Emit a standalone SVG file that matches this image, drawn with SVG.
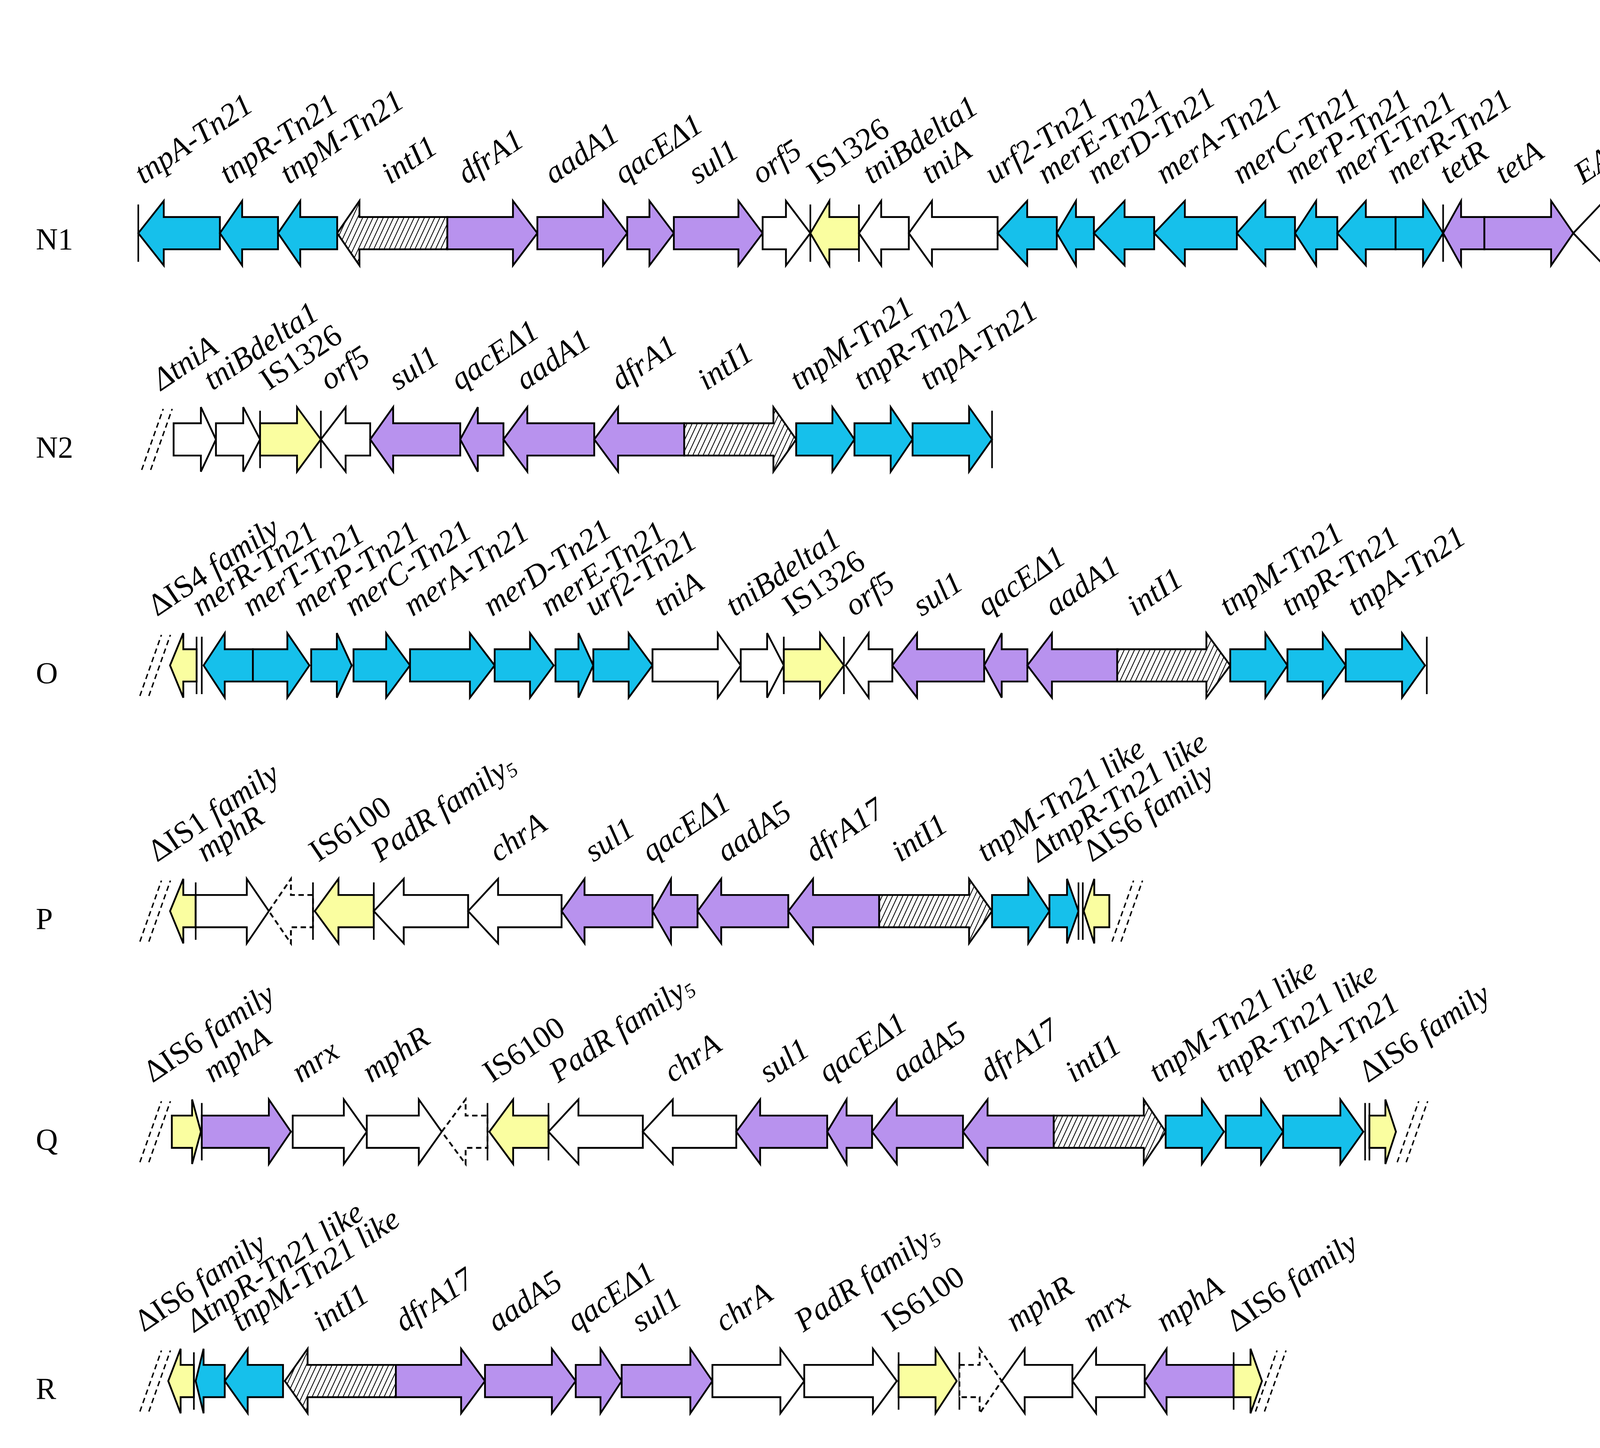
<svg xmlns="http://www.w3.org/2000/svg" width="7117" height="3707" viewBox="0 0 7117 3707">
<defs>
<pattern id="hat" patternUnits="userSpaceOnUse" width="2.6" height="2.6" patternTransform="rotate(25)">
<rect width="2.6" height="2.6" fill="#fff"/>
<line x1="0" y1="0" x2="0" y2="2.6" stroke="#000" stroke-width="0.9"/>
</pattern>
<g id="sl"><line x1="0" y1="17" x2="12" y2="-17"/><line x1="5" y1="17" x2="17" y2="-17"/></g>
</defs>
<style>
polygon{stroke:#000;stroke-width:1;stroke-linejoin:miter}
.b{fill:#16C0EB}.p{fill:#B892EE}.y{fill:#FAFEA0}.w{fill:#fff}.h{fill:url(#hat)}
.d{fill:#fff;stroke-dasharray:3 2}
line.r{stroke:#000;stroke-width:0.9}
.s{stroke:#000;stroke-width:0.8;stroke-dasharray:3 2;fill:none}
text.l{font-family:"Liberation Serif","Times New Roman",serif;font-style:italic;font-size:17.5px;fill:#000}
text.l .u{font-style:normal}
text.n{font-family:"Liberation Serif",serif;font-size:17px}
text.t{font-family:"Carlito","Open Sans","Liberation Sans",sans-serif;font-size:17px;text-anchor:end}
</style>
<rect width="7117" height="3707" fill="#fff"/>
<g transform="scale(4.5916)">
<!-- N1 -->
<g id="N1" transform="translate(0,130)">
<line class="r" x1="77.1" y1="-16" x2="77.1" y2="16"/>
<polygon class="b" points="77.1,0 91.3,-18 91.3,-9 122.6,-9 122.6,9 91.3,9 91.3,18"/>
<polygon class="b" points="122.6,0 135,-18 135,-9 155,-9 155,9 135,9 135,18"/>
<polygon class="b" points="155,0 167.4,-18 167.4,-9 188,-9 188,9 167.4,9 167.4,18"/>
<polygon class="h" points="188,0 200.4,-18 200.4,-9 249.4,-9 249.4,9 200.4,9 200.4,18"/>
<polygon class="p" points="249.4,-9 286,-9 286,-18 299.6,0 286,18 286,9 249.4,9"/>
<polygon class="p" points="299.6,-9 336.2,-9 336.2,-18 349.7,0 336.2,18 336.2,9 299.6,9"/>
<polygon class="p" points="349.7,-9 362.1,-9 362.1,-18 375.7,0 362.1,18 362.1,9 349.7,9"/>
<polygon class="p" points="375.7,-9 411.7,-9 411.7,-18 425.2,0 411.7,18 411.7,9 375.7,9"/>
<polygon class="w" points="425.2,-9 438.2,-9 438.2,-18 451.8,0 438.2,18 438.2,9 425.2,9"/>
<line class="r" x1="451.8" y1="-16" x2="451.8" y2="16"/>
<polygon class="y" points="451.8,0 462.4,-18 462.4,-9 478.9,-9 478.9,9 462.4,9 462.4,18"/>
<line class="r" x1="478.9" y1="-16" x2="478.9" y2="16"/>
<polygon class="w" points="478.9,0 491.3,-18 491.3,-9 506.7,-9 506.7,9 491.3,9 491.3,18"/>
<polygon class="w" points="506.7,0 519.6,-18 519.6,-9 556.2,-9 556.2,9 519.6,9 519.6,18"/>
<polygon class="b" points="556.2,0 572.7,-18 572.7,-9 589.2,-9 589.2,9 572.7,9 572.7,18"/>
<polygon class="b" points="589.2,0 599.9,-18 599.9,-9 609.9,-9 609.9,9 599.9,9 599.9,18"/>
<polygon class="b" points="609.9,0 627,-18 627,-9 643.5,-9 643.5,9 627,9 627,18"/>
<polygon class="b" points="643.5,0 660.6,-18 660.6,-9 689.6,-9 689.6,9 660.6,9 660.6,18"/>
<polygon class="b" points="689.6,0 705.5,-18 705.5,-9 722,-9 722,9 705.5,9 705.5,18"/>
<polygon class="b" points="722,0 733.8,-18 733.8,-9 745.6,-9 745.6,9 733.8,9 733.8,18"/>
<polygon class="b" points="745.6,0 761.5,-18 761.5,-9 778.1,-9 778.1,9 761.5,9 761.5,18"/>
<polygon class="b" points="778.1,-9 793.4,-9 793.4,-18 804.6,0 793.4,18 793.4,9 778.1,9"/>
<line class="r" x1="804.6" y1="-16" x2="804.6" y2="16"/>
<polygon class="p" points="804.6,0 814.6,-18 814.6,-9 827.6,-9 827.6,9 814.6,9 814.6,18"/>
<polygon class="p" points="827.6,-9 864.8,-9 864.8,-18 877.2,0 864.8,18 864.8,9 827.6,9"/>
<polygon class="w" points="877.2,0 894.3,-18 894.3,-9 929.7,-9 929.7,9 894.3,9 894.3,18"/>
<polygon class="b" points="929.7,0 945.6,-18 945.6,-9 962.1,-9 962.1,9 945.6,9 945.6,18"/>
<g transform="translate(0,-27)">
<text class="l" transform="translate(80,0) rotate(-34)">tnpA-Tn21</text>
<text class="l" transform="translate(127.3,0) rotate(-34)">tnpR-Tn21</text>
<text class="l" transform="translate(161,0) rotate(-34)">tnpM-Tn21</text>
<text class="l" transform="translate(217.5,0) rotate(-34)">intI1</text>
<text class="l" transform="translate(260,0) rotate(-34)">dfrA1</text>
<text class="l" transform="translate(308.4,0) rotate(-34)">aadA1</text>
<text class="l" transform="translate(347.4,0) rotate(-34)">qacEΔ1</text>
<text class="l" transform="translate(388.7,0) rotate(-34)">sul1</text>
<text class="l" transform="translate(424,0) rotate(-34)">orf5</text>
<text class="l" transform="translate(455,0) rotate(-34)"><tspan class="u">IS1326</tspan></text>
<text class="l" transform="translate(486,0) rotate(-34)">tniBdelta1</text>
<text class="l" transform="translate(518.5,0) rotate(-34)">tniA</text>
<text class="l" transform="translate(554,0) rotate(-34)">urf2-Tn21</text>
<text class="l" transform="translate(583.3,0) rotate(-34)">merE-Tn21</text>
<text class="l" transform="translate(611,0) rotate(-34)">merD-Tn21</text>
<text class="l" transform="translate(649.4,0) rotate(-34)">merA-Tn21</text>
<text class="l" transform="translate(692,0) rotate(-34)">merC-Tn21</text>
<text class="l" transform="translate(721.4,0) rotate(-34)">merP-Tn21</text>
<text class="l" transform="translate(748.5,0) rotate(-34)">merT-Tn21</text>
<text class="l" transform="translate(778,0) rotate(-34)">merR-Tn21</text>
<text class="l" transform="translate(807.5,0) rotate(-34)">tetR</text>
<text class="l" transform="translate(838.3,0) rotate(-34)">tetA</text>
<text class="l" transform="translate(882.5,0) rotate(-34)">EAmA transporter</text>
<text class="l" transform="translate(935.6,0) rotate(-34)">putative tnp</text>
</g>
<text class="n" x="20" y="9">N1</text>
<text class="t" x="1523" y="9">Rb19, ST111</text>
</g>
<!-- N2 -->
<g id="N2" transform="translate(0,245)">
<use href="#sl" class="s" x="79"/>
<polygon class="w" points="96.8,-9 112,-9 112,-18 120.4,0 112,18 112,9 96.8,9"/>
<polygon class="w" points="120.4,-9 135.6,-9 135.6,-18 145,0 135.6,18 135.6,9 120.4,9"/>
<line class="r" x1="145" y1="-16" x2="145" y2="16"/>
<polygon class="y" points="145,-9 165.6,-9 165.6,-18 178.9,0 165.6,18 165.6,9 145,9"/>
<line class="r" x1="178.9" y1="-16" x2="178.9" y2="16"/>
<polygon class="w" points="178.9,0 192.7,-18 192.7,-9 206.4,-9 206.4,9 192.7,9 192.7,18"/>
<polygon class="p" points="206.4,0 219.2,-18 219.2,-9 256.6,-9 256.6,9 219.2,9 219.2,18"/>
<polygon class="p" points="256.6,0 266.4,-18 266.4,-9 280.7,-9 280.7,9 266.4,9 266.4,18"/>
<polygon class="p" points="280.7,0 294,-18 294,-9 331.3,-9 331.3,9 294,9 294,18"/>
<polygon class="p" points="331.3,0 344.6,-18 344.6,-9 381.5,-9 381.5,9 344.6,9 344.6,18"/>
<polygon class="h" points="381.5,-9 431.2,-9 431.2,-18 443.9,0 431.2,18 431.2,9 381.5,9"/>
<polygon class="b" points="443.9,-9 464.1,-9 464.1,-18 476.4,0 464.1,18 464.1,9 443.9,9"/>
<polygon class="b" points="476.4,-9 496.6,-9 496.6,-18 508.8,0 496.6,18 496.6,9 476.4,9"/>
<polygon class="b" points="508.8,-9 540.3,-9 540.3,-18 553.1,0 540.3,18 540.3,9 508.8,9"/>
<line class="r" x1="553.1" y1="-16" x2="553.1" y2="16"/>
<g transform="translate(0,-27)">
<text class="l" transform="translate(89.9,0) rotate(-34)">ΔtniA</text>
<text class="l" transform="translate(118.4,0) rotate(-34)">tniBdelta1</text>
<text class="l" transform="translate(149.9,0) rotate(-34)"><tspan class="u">IS1326</tspan></text>
<text class="l" transform="translate(183.3,0) rotate(-34)">orf5</text>
<text class="l" transform="translate(221.7,0) rotate(-34)">sul1</text>
<text class="l" transform="translate(256.1,0) rotate(-34)">qacEΔ1</text>
<text class="l" transform="translate(292.5,0) rotate(-34)">aadA1</text>
<text class="l" transform="translate(345.6,0) rotate(-34)">dfrA1</text>
<text class="l" transform="translate(393.8,0) rotate(-34)">intI1</text>
<text class="l" transform="translate(445.4,0) rotate(-34)">tnpM-Tn21</text>
<text class="l" transform="translate(480.8,0) rotate(-34)">tnpR-Tn21</text>
<text class="l" transform="translate(517.7,0) rotate(-34)">tnpA-Tn21</text>
</g>
<text class="n" x="20" y="10">N2</text>
<text class="t" x="1523" y="10">Rb7, ST20</text>
</g>
<!-- O -->
<g id="O" transform="translate(0,371)">
<use href="#sl" class="s" x="78"/>
<polygon class="y" points="94.8,0 102.2,-18 102.2,-9 109.6,-9 109.6,9 102.2,9 102.2,18"/>
<line class="r" x1="109.6" y1="-16" x2="109.6" y2="16"/>
<line class="r" x1="112.5" y1="-16" x2="112.5" y2="16"/>
<polygon class="b" points="113.5,0 125.3,-18 125.3,-9 141,-9 141,9 125.3,9 125.3,18"/>
<polygon class="b" points="141,-9 160.2,-9 160.2,-18 172.5,0 160.2,18 160.2,9 141,9"/>
<polygon class="b" points="173.5,-9 187.8,-9 187.8,-18 196.1,0 187.8,18 187.8,9 173.5,9"/>
<polygon class="b" points="197.1,-9 215.3,-9 215.3,-18 228.6,0 215.3,18 215.3,9 197.1,9"/>
<polygon class="b" points="228.6,-9 262,-9 262,-18 275.8,0 262,18 262,9 228.6,9"/>
<polygon class="b" points="275.8,-9 295.5,-9 295.5,-18 308.7,0 295.5,18 295.5,9 275.8,9"/>
<polygon class="b" points="309.7,-9 322.5,-9 322.5,-18 330.8,0 322.5,18 322.5,9 309.7,9"/>
<polygon class="b" points="330.8,-9 350.5,-9 350.5,-18 363.8,0 350.5,18 350.5,9 330.8,9"/>
<polygon class="w" points="363.8,-9 400.2,-9 400.2,-18 413,0 400.2,18 400.2,9 363.8,9"/>
<polygon class="w" points="413,-9 427.7,-9 427.7,-18 437,0 427.7,18 427.7,9 413,9"/>
<line class="r" x1="437" y1="-16" x2="437" y2="16"/>
<polygon class="y" points="437,-9 457.2,-9 457.2,-18 470.5,0 457.2,18 457.2,9 437,9"/>
<line class="r" x1="470.5" y1="-16" x2="470.5" y2="16"/>
<polygon class="w" points="471.5,0 484.3,-18 484.3,-9 497.5,-9 497.5,9 484.3,9 484.3,18"/>
<polygon class="p" points="497.5,0 511.3,-18 511.3,-9 548.7,-9 548.7,9 511.3,9 511.3,18"/>
<polygon class="p" points="548.7,0 558.5,-18 558.5,-9 572.8,-9 572.8,9 558.5,9 558.5,18"/>
<polygon class="p" points="572.8,0 586.5,-18 586.5,-9 622.9,-9 622.9,9 586.5,9 586.5,18"/>
<polygon class="h" points="622.9,-9 672.6,-9 672.6,-18 685.9,0 672.6,18 672.6,9 622.9,9"/>
<polygon class="b" points="685.9,-9 705.5,-9 705.5,-18 717.8,0 705.5,18 705.5,9 685.9,9"/>
<polygon class="b" points="717.8,-9 737.5,-9 737.5,-18 750.3,0 737.5,18 737.5,9 717.8,9"/>
<polygon class="b" points="750.3,-9 781.7,-9 781.7,-18 794.5,0 781.7,18 781.7,9 750.3,9"/>
<line class="r" x1="795.5" y1="-16" x2="795.5" y2="16"/>
<g transform="translate(0,-27)">
<text class="l" transform="translate(87.5,0) rotate(-34)"><tspan class="u">ΔIS4 </tspan>family</text>
<text class="l" transform="translate(112,0) rotate(-34)">merR-Tn21</text>
<text class="l" transform="translate(140.1,0) rotate(-34)">merT-Tn21</text>
<text class="l" transform="translate(168.6,0) rotate(-34)">merP-Tn21</text>
<text class="l" transform="translate(197.1,0) rotate(-34)">merC-Tn21</text>
<text class="l" transform="translate(230,0) rotate(-34)">merA-Tn21</text>
<text class="l" transform="translate(274.3,0) rotate(-34)">merD-Tn21</text>
<text class="l" transform="translate(306.3,0) rotate(-34)">merE-Tn21</text>
<text class="l" transform="translate(330.8,0) rotate(-34)">urf2-Tn21</text>
<text class="l" transform="translate(369.2,0) rotate(-34)">tniA</text>
<text class="l" transform="translate(409.5,0) rotate(-34)">tniBdelta1</text>
<text class="l" transform="translate(441.5,0) rotate(-34)"><tspan class="u">IS1326</tspan></text>
<text class="l" transform="translate(475.9,0) rotate(-34)">orf5</text>
<text class="l" transform="translate(513.8,0) rotate(-34)">sul1</text>
<text class="l" transform="translate(549.6,0) rotate(-34)">qacEΔ1</text>
<text class="l" transform="translate(587.5,0) rotate(-34)">aadA1</text>
<text class="l" transform="translate(633.3,0) rotate(-34)">intI1</text>
<text class="l" transform="translate(684.9,0) rotate(-34)">tnpM-Tn21</text>
<text class="l" transform="translate(719.3,0) rotate(-34)">tnpR-Tn21</text>
<text class="l" transform="translate(756.2,0) rotate(-34)">tnpA-Tn21</text>
</g>
<text class="n" x="20" y="10">O</text>
<text class="t" x="1523" y="10">Da5, Novel</text>
</g>
<!-- P -->
<g id="P" transform="translate(0,508)">
<use href="#sl" class="s" x="78"/>
<polygon class="y" points="94.8,0 102.2,-18 102.2,-9 109.1,-9 109.1,9 102.2,9 102.2,18"/>
<line class="r" x1="109.1" y1="-16" x2="109.1" y2="16"/>
<polygon class="w" points="109.1,-9 137.6,-9 137.6,-18 149.9,0 137.6,18 137.6,9 109.1,9"/>
<polygon class="d" points="149.9,0 162.2,-18 162.2,-9 174.5,-9 174.5,9 162.2,9 162.2,18"/>
<line class="r" x1="174.5" y1="-16" x2="174.5" y2="16"/>
<polygon class="y" points="175.5,0 188.7,-18 188.7,-9 208.4,-9 208.4,9 188.7,9 188.7,18"/>
<line class="r" x1="208.4" y1="-16" x2="208.4" y2="16"/>
<polygon class="w" points="208.4,0 225.1,-18 225.1,-9 261,-9 261,9 225.1,9 225.1,18"/>
<polygon class="w" points="261,0 277.7,-18 277.7,-9 313.1,-9 313.1,9 277.7,9 277.7,18"/>
<polygon class="p" points="313.1,0 325.9,-18 325.9,-9 363.8,-9 363.8,9 325.9,9 325.9,18"/>
<polygon class="p" points="363.8,0 374.1,-18 374.1,-9 388.9,-9 388.9,9 374.1,9 374.1,18"/>
<polygon class="p" points="388.9,0 402.1,-18 402.1,-9 439.5,-9 439.5,9 402.1,9 402.1,18"/>
<polygon class="p" points="439.5,0 453.3,-18 453.3,-9 490.2,-9 490.2,9 453.3,9 453.3,18"/>
<polygon class="h" points="490.2,-9 540.3,-9 540.3,-18 553.1,0 540.3,18 540.3,9 490.2,9"/>
<polygon class="b" points="553.1,-9 573.3,-9 573.3,-18 585.1,0 573.3,18 573.3,9 553.1,9"/>
<polygon class="b" points="585.1,-9 594.9,-9 594.9,-18 601.3,0 594.9,18 594.9,9 585.1,9"/>
<line class="r" x1="601.3" y1="-16" x2="601.3" y2="16"/>
<line class="r" x1="603.7" y1="-16" x2="603.7" y2="16"/>
<polygon class="y" points="604.2,0 610.1,-18 610.1,-9 618.5,-9 618.5,9 610.1,9 610.1,18"/>
<use href="#sl" class="s" x="620"/>
<g transform="translate(0,-27)">
<text class="l" transform="translate(87.5,0) rotate(-34)"><tspan class="u">ΔIS1 </tspan>family</text>
<text class="l" transform="translate(114.5,0) rotate(-34)">mphR</text>
<text class="l" transform="translate(177.4,0) rotate(-34)"><tspan class="u">IS6100</tspan></text>
<text class="l" transform="translate(211.9,0) rotate(-34)">PadR family<tspan font-size="11" dy="2">5</tspan></text>
<text class="l" transform="translate(277.7,0) rotate(-34)">chrA</text>
<text class="l" transform="translate(330.8,0) rotate(-34)">sul1</text>
<text class="l" transform="translate(362.8,0) rotate(-34)">qacEΔ1</text>
<text class="l" transform="translate(404.6,0) rotate(-34)">aadA5</text>
<text class="l" transform="translate(453.8,0) rotate(-34)">dfrA17</text>
<text class="l" transform="translate(502,0) rotate(-34)">intI1</text>
<text class="l" transform="translate(549.6,0) rotate(-34)">tnpM-Tn21 like</text>
<text class="l" transform="translate(579.2,0) rotate(-34)">ΔtnpR-Tn21 like</text>
<text class="l" transform="translate(608.7,0) rotate(-34)"><tspan class="u">ΔIS6 </tspan>family</text>
</g>
<text class="n" x="20" y="10">P</text>
<text class="t" x="1523" y="10">Rb20, ST539</text>
</g>
<!-- Q -->
<g id="Q" transform="translate(0,631)">
<use href="#sl" class="s" x="78"/>
<polygon class="y" points="95.8,-9 107.1,-9 107.1,-18 112,0 107.1,18 107.1,9 95.8,9"/>
<line class="r" x1="112.5" y1="-16" x2="112.5" y2="16"/>
<polygon class="p" points="112.5,-9 149.9,-9 149.9,-18 162.2,0 149.9,18 149.9,9 112.5,9"/>
<polygon class="w" points="163.2,-9 191.7,-9 191.7,-18 204.5,0 191.7,18 191.7,9 163.2,9"/>
<polygon class="w" points="204.5,-9 233.5,-9 233.5,-18 246.3,0 233.5,18 233.5,9 204.5,9"/>
<polygon class="d" points="246.3,0 259.6,-18 259.6,-9 271.8,-9 271.8,9 259.6,9 259.6,18"/>
<line class="r" x1="271.8" y1="-16" x2="271.8" y2="16"/>
<polygon class="y" points="272.8,0 286.1,-18 286.1,-9 305.8,-9 305.8,9 286.1,9 286.1,18"/>
<line class="r" x1="305.8" y1="-16" x2="305.8" y2="16"/>
<polygon class="w" points="305.8,0 322.5,-18 322.5,-9 358.4,-9 358.4,9 322.5,9 322.5,18"/>
<polygon class="w" points="358.4,0 375.1,-18 375.1,-9 410.5,-9 410.5,9 375.1,9 375.1,18"/>
<polygon class="p" points="410.5,0 423.8,-18 423.8,-9 461.2,-9 461.2,9 423.8,9 423.8,18"/>
<polygon class="p" points="461.2,0 472,-18 472,-9 486.2,-9 486.2,9 472,9 472,18"/>
<polygon class="p" points="486.2,0 500,-18 500,-9 536.9,-9 536.9,9 500,9 500,18"/>
<polygon class="p" points="536.9,0 550.6,-18 550.6,-9 587.5,-9 587.5,9 550.6,9 550.6,18"/>
<polygon class="h" points="587.5,-9 637.7,-9 637.7,-18 649.9,0 637.7,18 637.7,9 587.5,9"/>
<polygon class="b" points="649.9,-9 670.1,-9 670.1,-18 682.4,0 670.1,18 670.1,9 649.9,9"/>
<polygon class="b" points="683.4,-9 703.1,-9 703.1,-18 715.4,0 703.1,18 703.1,9 683.4,9"/>
<polygon class="b" points="715.4,-9 747.3,-9 747.3,-18 760.1,0 747.3,18 747.3,9 715.4,9"/>
<line class="r" x1="761.1" y1="-16" x2="761.1" y2="16"/>
<line class="r" x1="763.5" y1="-16" x2="763.5" y2="16"/>
<polygon class="y" points="763.5,-9 772.4,-9 772.4,-18 778.3,0 772.4,18 772.4,9 763.5,9"/>
<use href="#sl" class="s" x="779"/>
<g transform="translate(0,-27)">
<text class="l" transform="translate(85,0) rotate(-34)"><tspan class="u">ΔIS6 </tspan>family</text>
<text class="l" transform="translate(118.4,0) rotate(-34)">mphA</text>
<text class="l" transform="translate(167.6,0) rotate(-34)">mrx</text>
<text class="l" transform="translate(206.9,0) rotate(-34)">mphR</text>
<text class="l" transform="translate(274.3,0) rotate(-34)"><tspan class="u">IS6100</tspan></text>
<text class="l" transform="translate(311.2,0) rotate(-34)">PadR family<tspan font-size="11" dy="2">5</tspan></text>
<text class="l" transform="translate(375.1,0) rotate(-34)">chrA</text>
<text class="l" transform="translate(428.2,0) rotate(-34)">sul1</text>
<text class="l" transform="translate(461.2,0) rotate(-34)">qacEΔ1</text>
<text class="l" transform="translate(502,0) rotate(-34)">aadA5</text>
<text class="l" transform="translate(551.1,0) rotate(-34)">dfrA17</text>
<text class="l" transform="translate(598.8,0) rotate(-34)">intI1</text>
<text class="l" transform="translate(645.5,0) rotate(-34)">tnpM-Tn21 like</text>
<text class="l" transform="translate(682.4,0) rotate(-34)">tnpR-Tn21 like</text>
<text class="l" transform="translate(719.3,0) rotate(-34)">tnpA-Tn21</text>
<text class="l" transform="translate(762.6,0) rotate(-34)"><tspan class="u">ΔIS6 </tspan>family</text>
</g>
<text class="n" x="20" y="10">Q</text>
<text class="t" x="1523" y="10">Pl6, ST744</text>
</g>
<!-- R -->
<g id="R" transform="translate(0,770)">
<use href="#sl" class="s" x="78"/>
<polygon class="y" points="93.8,0 100.7,-18 100.7,-9 108.1,-9 108.1,9 100.7,9 100.7,18"/>
<line class="r" x1="108.1" y1="-16" x2="108.1" y2="16"/>
<polygon class="b" points="109.1,0 113.5,-18 113.5,-9 125.3,-9 125.3,9 113.5,9 113.5,18"/>
<polygon class="b" points="125.3,0 138.1,-18 138.1,-9 157.8,-9 157.8,9 138.1,9 138.1,18"/>
<polygon class="h" points="158.8,0 171.5,-18 171.5,-9 220.7,-9 220.7,9 171.5,9 171.5,18"/>
<polygon class="p" points="220.7,-9 257.1,-9 257.1,-18 270.4,0 257.1,18 257.1,9 220.7,9"/>
<polygon class="p" points="270.4,-9 307.7,-9 307.7,-18 321,0 307.7,18 307.7,9 270.4,9"/>
<polygon class="p" points="321,-9 334.8,-9 334.8,-18 346.6,0 334.8,18 334.8,9 321,9"/>
<polygon class="p" points="346.6,-9 384.9,-9 384.9,-18 397.2,0 384.9,18 384.9,9 346.6,9"/>
<polygon class="w" points="397.2,-9 435.1,-9 435.1,-18 448.4,0 435.1,18 435.1,9 397.2,9"/>
<polygon class="w" points="448.4,-9 486.7,-9 486.7,-18 500,0 486.7,18 486.7,9 448.4,9"/>
<line class="r" x1="501" y1="-16" x2="501" y2="16"/>
<polygon class="y" points="501,-9 521.6,-9 521.6,-18 533.4,0 521.6,18 521.6,9 501,9"/>
<line class="r" x1="534.9" y1="-16" x2="534.9" y2="16"/>
<polygon class="d" points="534.9,-9 546.2,-9 546.2,-18 558.5,0 546.2,18 546.2,9 534.9,9"/>
<polygon class="w" points="558.5,0 571.3,-18 571.3,-9 597.9,-9 597.9,9 571.3,9 571.3,18"/>
<polygon class="w" points="597.9,0 611.1,-18 611.1,-9 638.2,-9 638.2,9 611.1,9 611.1,18"/>
<polygon class="p" points="638.2,0 650.4,-18 650.4,-9 687.8,-9 687.8,9 650.4,9 650.4,18"/>
<line class="r" x1="687.8" y1="-16" x2="687.8" y2="16"/>
<polygon class="y" points="687.8,-9 697.2,-9 697.2,-18 703.6,0 697.2,18 697.2,9 687.8,9"/>
<use href="#sl" class="s" x="700"/>
<g transform="translate(0,-27)">
<text class="l" transform="translate(80.1,0) rotate(-34)"><tspan class="u">ΔIS6 </tspan>family</text>
<text class="l" transform="translate(108.6,0) rotate(-34)">ΔtnpR-Tn21 like</text>
<text class="l" transform="translate(134.2,0) rotate(-34)">tnpM-Tn21 like</text>
<text class="l" transform="translate(179.4,0) rotate(-34)">intI1</text>
<text class="l" transform="translate(225.1,0) rotate(-34)">dfrA17</text>
<text class="l" transform="translate(276.8,0) rotate(-34)">aadA5</text>
<text class="l" transform="translate(321,0) rotate(-34)">qacEΔ1</text>
<text class="l" transform="translate(356.9,0) rotate(-34)">sul1</text>
<text class="l" transform="translate(403.6,0) rotate(-34)">chrA</text>
<text class="l" transform="translate(447.9,0) rotate(-34)">PadR family<tspan font-size="11" dy="2">5</tspan></text>
<text class="l" transform="translate(497,0) rotate(-34)"><tspan class="u">IS6100</tspan></text>
<text class="l" transform="translate(565.9,0) rotate(-34)">mphR</text>
<text class="l" transform="translate(608.7,0) rotate(-34)">mrx</text>
<text class="l" transform="translate(649.5,0) rotate(-34)">mphA</text>
<text class="l" transform="translate(688.8,0) rotate(-34)"><tspan class="u">ΔIS6 </tspan>family</text>
</g>
<text class="n" x="20" y="10">R</text>
<text class="t" x="1523" y="10">Pl18, ST69</text>
</g>
<g id="connectors"/>
</g>
</svg>
